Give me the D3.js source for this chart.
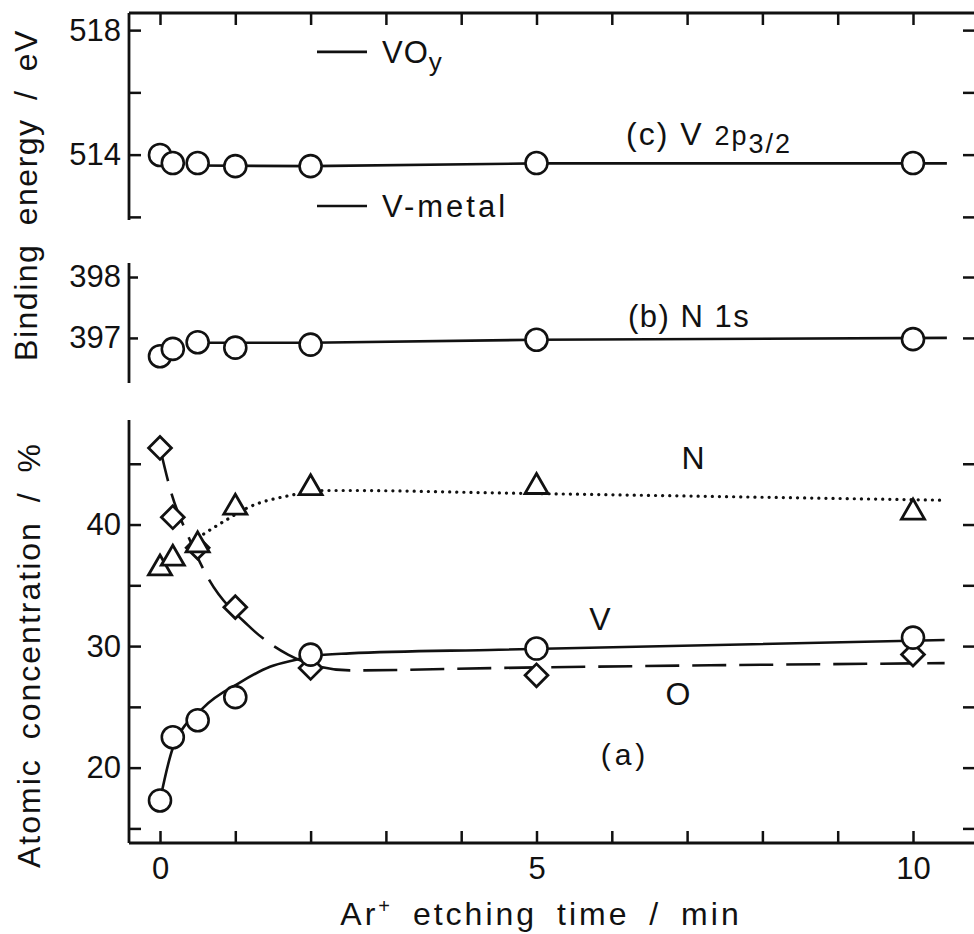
<!DOCTYPE html>
<html>
<head>
<meta charset="utf-8">
<script src="https://cdn.jsdelivr.net/npm/d3@7"></script>
<style>
    body { margin: 0; background: #fff; }
    svg { display: block; }
    text { font-family: "Liberation Sans", Arial, sans-serif; fill: #111; }
</style>
</head>
<body>
<svg id="chart" width="974" height="934"></svg>
<script>
// Ar+ etching time, min
let times = [0, 0.17, 0.5, 1, 2, 5, 10];

// (c) V 2p3/2 binding energy, eV
let bindV2p = [513.99, 513.73, 513.73, 513.63, 513.63, 513.73, 513.73];
let fitV2pTime = [0.5, 2, 5, 10.45];
let fitV2p = [513.65, 513.63, 513.72, 513.72];
let refEnergies = [517.3, 512.35];
let refNames = ['VO', 'V-metal'];

// (b) N 1s binding energy, eV
let bindN1s = [396.70, 396.82, 396.93, 396.84, 396.89, 396.97, 396.98];
let fitN1sTime = [0.5, 2, 5, 10.45];
let fitN1s = [396.92, 396.92, 396.97, 397.0];

// (a) atomic concentration, %
let concV = [17.3, 22.5, 23.9, 25.8, 29.3, 29.8, 30.7];
let concN = [36.4, 37.2, 38.3, 41.4, 43.0, 43.1, 41.0];
let concO = [46.3, 40.6, 38.1, 33.2, 28.2, 27.6, 29.3];

// hand-drawn guide curves
let fitVTime = [0, 0.17, 0.57, 1.06, 1.46, 1.82, 2.02, 2.52, 4.5, 10.42];
let fitV = [17.3, 21.6, 24.9, 27.0, 28.3, 28.9, 29.2, 29.4, 29.7, 30.5];
let fitOTime = [0, 0.16, 0.37, 0.62, 1.17, 1.7, 2.12, 2.52, 4.5, 10.42];
let fitO = [46.3, 42.4, 39.1, 35.8, 31.7, 29.3, 28.3, 28.0, 28.2, 28.6];
let fitNTime = [0.5, 0.86, 1.17, 1.73, 2.16, 2.52, 4.5, 10.42];
let fitN = [38.9, 40.3, 41.4, 42.4, 42.8, 42.8, 42.6, 42.0];

let xTicks = d3.range(0, 11);
let xTickLabels = [0, 5, 10];
let cTicks = [512, 514, 516, 518], cLabels = [514, 518];
let bTicks = [397, 398], bLabels = [397, 398];
let aTicks = [15, 20, 25, 30, 35, 40, 45], aLabels = [20, 30, 40];

const plotLeft = 129, plotRight = 975, plotTop = 13, plotBottom = 843;
const ink = '#111';

let svg = d3.select('#chart');
svg.append('rect').attr('width', 974).attr('height', 934).attr('fill', '#fff');

let x = d3.scaleLinear().domain([0, 10]).range([160, 913]);
let yC = d3.scaleLinear().domain([511.9, 518.55]).range([220, plotTop]);
let yB = d3.scaleLinear().domain([396.26, 398.23]).range([383, 263]);
let yA = d3.scaleLinear().domain([13.8, 48.6]).range([plotBottom, 420]);

function styleAxis(g) {
    g.select('.domain').remove();
    g.selectAll('line').attr('stroke', ink).attr('stroke-width', 2.5);
    g.selectAll('text').attr('fill', ink).style('font-size', '31px')
        .style('font-family', '"Liberation Sans", Arial, sans-serif');
}

// frame lines
let frame = svg.append('g').attr('stroke', ink).attr('stroke-width', 2.8).attr('fill', 'none');
frame.append('line').attr('x1', plotLeft).attr('x2', plotRight).attr('y1', plotTop).attr('y2', plotTop);
frame.append('line').attr('x1', plotLeft).attr('x2', plotRight).attr('y1', plotBottom).attr('y2', plotBottom);
[yC, yB, yA].forEach(s => {
    frame.append('line').attr('x1', plotLeft).attr('x2', plotLeft)
        .attr('y1', s.range()[0]).attr('y2', s.range()[1]);
});

// x ticks, top and bottom, pointing inwards
svg.append('g').attr('transform', `translate(0,${plotTop})`)
    .call(d3.axisBottom(x).tickValues(xTicks).tickSize(12).tickFormat(''))
    .call(styleAxis);
svg.append('g').attr('transform', `translate(0,${plotBottom})`)
    .call(d3.axisTop(x).tickValues(xTicks).tickSize(12).tickFormat(''))
    .call(styleAxis);
svg.append('g').attr('transform', `translate(0,${plotBottom})`)
    .call(d3.axisBottom(x).tickValues(xTickLabels).tickSize(0).tickPadding(14).tickFormat(d3.format('d')))
    .call(styleAxis);

// y ticks for the three panels
function yAxis(scale, ticks, labels, len) {
    svg.append('g').attr('transform', `translate(${plotLeft},0)`)
        .call(d3.axisRight(scale).tickValues(ticks).tickSize(len).tickFormat(''))
        .call(styleAxis);
    svg.append('g').attr('transform', `translate(${plotRight},0)`)
        .call(d3.axisLeft(scale).tickValues(ticks).tickSize(12).tickFormat(''))
        .call(styleAxis);
    svg.append('g').attr('transform', `translate(${plotLeft},0)`)
        .call(d3.axisLeft(scale).tickValues(labels).tickSize(0).tickPadding(8).tickFormat(d3.format('d')))
        .call(styleAxis);
}
yAxis(yC, cTicks, cLabels, 12);
yAxis(yB, bTicks, bLabels, 9);
yAxis(yA, aTicks, aLabels, 12);

// axis titles
svg.append('text')
    .attr('transform', 'translate(37,195) rotate(-90)')
    .attr('text-anchor', 'middle')
    .style('font-size', '32px').style('letter-spacing', '1.5px').style('word-spacing', '8px')
    .text('Binding energy / eV');
svg.append('text')
    .attr('transform', 'translate(40,655) rotate(-90)')
    .attr('text-anchor', 'middle')
    .style('font-size', '32px').style('letter-spacing', '2px').style('word-spacing', '8px')
    .text('Atomic concentration / %');

let xTitle = svg.append('text')
    .attr('x', 541).attr('y', 925)
    .attr('text-anchor', 'middle')
    .style('font-size', '32px').style('letter-spacing', '3px').style('word-spacing', '8px');
xTitle.append('tspan').text('Ar');
xTitle.append('tspan').attr('dy', -12).style('font-size', '20px').text('+');
xTitle.append('tspan').attr('dy', 12).text(' etching time  /  min');

// lines
function drawLine(xs, ys, scale, dash, curve) {
    let line = d3.line()
        .x(d => x(d[0]))
        .y(d => scale(d[1]))
        .curve(curve || d3.curveLinear);
    let p = svg.append('path')
        .datum(d3.zip(xs, ys))
        .attr('d', line)
        .attr('fill', 'none')
        .attr('stroke', ink)
        .attr('stroke-width', 2.6);
    if (dash) {
        p.attr('stroke-dasharray', dash);
    }
    return p;
}

drawLine(fitV2pTime, fitV2p, yC);
drawLine(fitN1sTime, fitN1s, yB);
drawLine(fitVTime, fitV, yA, null, d3.curveMonotoneX);
drawLine(fitOTime, fitO, yA, '34,13', d3.curveMonotoneX);
drawLine(fitNTime, fitN, yA, '0.1,7', d3.curveMonotoneX)
    .attr('stroke-width', 3.2).attr('stroke-linecap', 'round');

// reference levels in (c)
refEnergies.forEach((e, i) => {
    svg.append('line')
        .attr('x1', 317).attr('x2', 367)
        .attr('y1', yC(e)).attr('y2', yC(e))
        .attr('stroke', ink).attr('stroke-width', 2.6);
    let t = svg.append('text')
        .attr('x', 382).attr('y', yC(e) + 11)
        .style('font-size', '31px').style('letter-spacing', i === 0 ? '1px' : '3px');
    t.append('tspan').text(refNames[i]);
    if (i === 0) {
        t.append('tspan').attr('dy', 8).style('font-size', '26px').text('y');
    }
});

// markers
function circles(vals, scale) {
    svg.append('g').selectAll('circle')
        .data(d3.zip(times, vals))
        .join('circle')
        .attr('cx', d => x(d[0]))
        .attr('cy', d => scale(d[1]))
        .attr('r', 11)
        .attr('fill', '#fff')
        .attr('stroke', ink)
        .attr('stroke-width', 2.6);
}

function symbols(vals, scale, type, size, rot) {
    svg.append('g').selectAll('path')
        .data(d3.zip(times, vals))
        .join('path')
        .attr('d', d3.symbol().type(type).size(size))
        .attr('transform', d => `translate(${x(d[0])},${scale(d[1])}) rotate(${rot})`)
        .attr('fill', '#fff')
        .attr('stroke', ink)
        .attr('stroke-width', 2.8)
        .attr('stroke-linejoin', 'miter');
}

circles(bindV2p, yC);
circles(bindN1s, yB);
symbols(concO, yA, d3.symbolSquare, 260, 45);
symbols(concN, yA, d3.symbolTriangle, 230, 0);
circles(concV, yA);

// panel labels
let lc = svg.append('text').attr('x', 626).attr('y', 145)
    .style('font-size', '32px').style('letter-spacing', '2px');
lc.append('tspan').text('(c) V ');
lc.append('tspan').style('font-size', '27px').text('2p');
lc.append('tspan').attr('dy', 8).style('font-size', '27px').text('3/2');

svg.append('text').attr('x', 628).attr('y', 327)
    .style('font-size', '31px').style('letter-spacing', '1.5px')
    .text('(b) N 1s');

svg.append('text').attr('x', 693).attr('y', 469).attr('text-anchor', 'middle')
    .style('font-size', '32px').text('N');
svg.append('text').attr('x', 600).attr('y', 630).attr('text-anchor', 'middle')
    .style('font-size', '32px').text('V');
svg.append('text').attr('x', 678).attr('y', 705).attr('text-anchor', 'middle')
    .style('font-size', '32px').text('O');
svg.append('text').attr('x', 625).attr('y', 765).attr('text-anchor', 'middle')
    .style('font-size', '30px').style('letter-spacing', '4px').text('(a)');
</script>
</body>
</html>
